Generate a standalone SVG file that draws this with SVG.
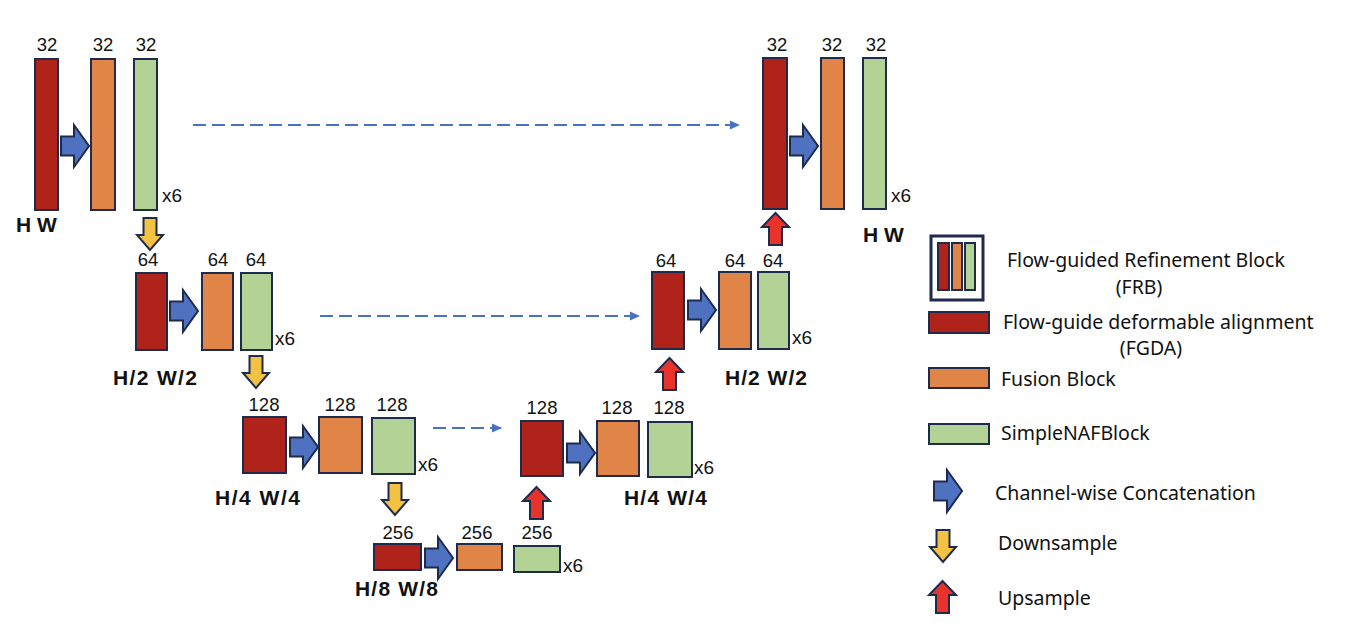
<svg xmlns="http://www.w3.org/2000/svg" xmlns:xlink="http://www.w3.org/1999/xlink" width="1348" height="638" viewBox="0 0 1348 638">
<style>
.r{fill:#B0231A;stroke:#1F2B4D;stroke-width:2}
.o{fill:#E08447;stroke:#1F2B4D;stroke-width:2}
.g{fill:#B3D296;stroke:#1F2B4D;stroke-width:2}
.num{font-family:"Liberation Sans",Arial,sans-serif;font-size:18.5px;fill:#111;text-anchor:middle}
.x6{font-family:"Liberation Sans",Arial,sans-serif;font-size:19px;fill:#111}
.dim{font-family:"Liberation Sans",Arial,sans-serif;font-size:21px;font-weight:bold;fill:#111}
.leg{font-family:"Noto Sans","Liberation Sans",sans-serif;font-size:19.5px;fill:#111}
.dash{stroke:#4A72C4;stroke-width:2;stroke-dasharray:13 6;fill:none}
</style>
<defs>
<polygon id="cat" points="0,11.5 13,11.5 13,0 28,21 13,42 13,30.5 0,30.5" fill="#4E72C0" stroke="#1F2B4D" stroke-width="2" stroke-linejoin="miter"/>
<polygon id="down" points="6.5,0 19.5,0 19.5,17 26,17 13,32 0,17 6.5,17" fill="#F4C242" stroke="#1F2B4D" stroke-width="2"/>
<polygon id="up" points="13.5,0 27,14 20,14 20,32 7,32 7,14 0,14" fill="#E8322A" stroke="#1F2B4D" stroke-width="2"/>
<marker id="ah" markerWidth="10" markerHeight="10" refX="9" refY="5" orient="auto" markerUnits="userSpaceOnUse">
<polygon points="0,0.5 10,5 0,9.5" fill="#4A72C4"/>
</marker>
</defs>

<g id="connectors">
<line class="dash" x1="193" y1="125" x2="739" y2="125" marker-end="url(#ah)"/>
<line class="dash" x1="320" y1="316" x2="639" y2="316" marker-end="url(#ah)"/>
<line class="dash" x1="433" y1="428" x2="501" y2="428" marker-end="url(#ah)"/>
<use xlink:href="#cat" x="61" y="125"/>
<use xlink:href="#cat" x="170" y="290"/>
<use xlink:href="#cat" x="290" y="426"/>
<use xlink:href="#cat" x="425" y="537"/>
<use xlink:href="#cat" x="567" y="432"/>
<use xlink:href="#cat" x="688" y="289"/>
<use xlink:href="#cat" x="790" y="125"/>
<use xlink:href="#down" x="137" y="218"/>
<use xlink:href="#down" x="243" y="356"/>
<use xlink:href="#down" x="382" y="483"/>
<use xlink:href="#up" x="523" y="487"/>
<use xlink:href="#up" x="656" y="358"/>
<use xlink:href="#up" x="762" y="213"/>
</g>

<g id="enc1">
<rect class="r" x="35" y="59" width="23" height="151"/>
<rect class="o" x="91" y="59" width="24" height="151"/>
<rect class="g" x="134" y="59" width="23" height="151"/>
<text class="num" x="47" y="51">32</text>
<text class="num" x="103" y="51">32</text>
<text class="num" x="146" y="51">32</text>
<text class="x6" x="162" y="202">x6</text>
<text class="dim" x="16" y="232">H W</text>
</g>

<g id="enc2">
<rect class="r" x="136" y="273" width="31" height="77"/>
<rect class="o" x="202" y="273" width="31" height="77"/>
<rect class="g" x="241" y="273" width="31" height="77"/>
<text class="num" x="148" y="266">64</text>
<text class="num" x="218" y="266">64</text>
<text class="num" x="256" y="266">64</text>
<text class="x6" x="275" y="345">x6</text>
<text class="dim" x="113" y="385" textLength="84" lengthAdjust="spacing">H/2 W/2</text>
</g>

<g id="enc3">
<rect class="r" x="243" y="417" width="43" height="56"/>
<rect class="o" x="319" y="417" width="43" height="56"/>
<rect class="g" x="372" y="418" width="43" height="56"/>
<text class="num" x="264" y="411">128</text>
<text class="num" x="340" y="411">128</text>
<text class="num" x="392" y="411">128</text>
<text class="x6" x="418" y="471">x6</text>
<text class="dim" x="215" y="505" textLength="85" lengthAdjust="spacing">H/4 W/4</text>
</g>

<g id="bottleneck">
<rect class="r" x="374" y="544" width="47" height="26"/>
<rect class="o" x="457" y="544" width="45" height="26"/>
<rect class="g" x="514" y="546" width="46" height="26"/>
<text class="num" x="398" y="539">256</text>
<text class="num" x="477" y="539">256</text>
<text class="num" x="537" y="539">256</text>
<text class="x6" x="563" y="572">x6</text>
<text class="dim" x="355" y="596" textLength="83" lengthAdjust="spacing">H/8 W/8</text>
</g>

<g id="dec3">
<rect class="r" x="521" y="421" width="42" height="55"/>
<rect class="o" x="597" y="421" width="42" height="55"/>
<rect class="g" x="648" y="422" width="44" height="55"/>
<text class="num" x="542" y="414">128</text>
<text class="num" x="617" y="414">128</text>
<text class="num" x="669" y="414">128</text>
<text class="x6" x="694" y="474">x6</text>
<text class="dim" x="624" y="505" textLength="83" lengthAdjust="spacing">H/4 W/4</text>
</g>

<g id="dec2">
<rect class="r" x="652" y="272" width="32" height="77"/>
<rect class="o" x="719" y="272" width="32" height="77"/>
<rect class="g" x="758" y="272" width="31" height="77"/>
<text class="num" x="666" y="267">64</text>
<text class="num" x="735" y="267">64</text>
<text class="num" x="773" y="267">64</text>
<text class="x6" x="792" y="344">x6</text>
<text class="dim" x="725" y="385" textLength="82" lengthAdjust="spacing">H/2 W/2</text>
</g>

<g id="dec1">
<rect class="r" x="763" y="58" width="24" height="151"/>
<rect class="o" x="821" y="58" width="23" height="151"/>
<rect class="g" x="863" y="58" width="23" height="151"/>
<text class="num" x="777" y="51">32</text>
<text class="num" x="832" y="51">32</text>
<text class="num" x="876" y="51">32</text>
<text class="x6" x="891" y="202">x6</text>
<text class="dim" x="863" y="242">H W</text>
</g>

<g id="legend">
<rect x="931" y="236" width="52" height="64" fill="#fff" stroke="#1F2B4D" stroke-width="3"/>
<rect class="r" x="938" y="243" width="11" height="47"/>
<rect class="o" x="952" y="243" width="10" height="47"/>
<rect class="g" x="965" y="243" width="10" height="47"/>
<text class="leg" x="1007" y="267">Flow-guided Refinement Block</text>
<text class="leg" x="1139" y="294" text-anchor="middle">(FRB)</text>
<rect class="r" x="929" y="312" width="60" height="21"/>
<text class="leg" x="1003" y="329">Flow-guide deformable alignment</text>
<text class="leg" x="1151" y="355" text-anchor="middle">(FGDA)</text>
<rect class="o" x="929" y="368" width="60" height="20"/>
<text class="leg" x="1001" y="386">Fusion Block</text>
<rect class="g" x="929" y="424" width="60" height="20"/>
<text class="leg" x="1001" y="440">SimpleNAFBlock</text>
<use xlink:href="#cat" x="934" y="470"/>
<text class="leg" x="995" y="500">Channel-wise Concatenation</text>
<use xlink:href="#down" x="930" y="530"/>
<text class="leg" x="998" y="550">Downsample</text>
<use xlink:href="#up" x="929" y="581"/>
<text class="leg" x="998" y="605">Upsample</text>
</g>
</svg>
